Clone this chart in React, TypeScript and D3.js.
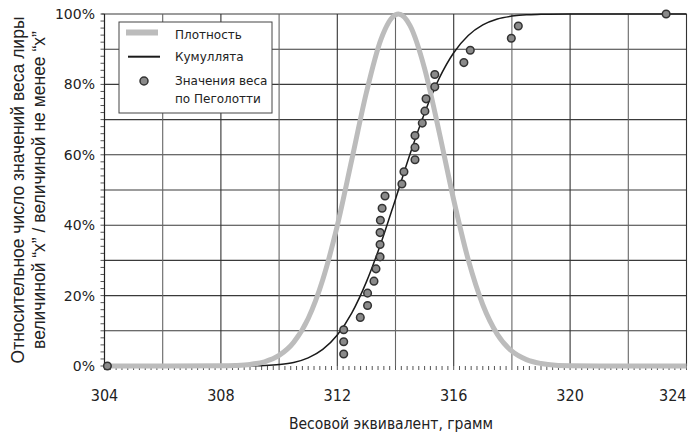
import React from 'react';
import * as d3 from 'd3';

// плотность (в % от максимума)
const densityX = [304, 306, 308, 308.5, 309, 309.5, 310, 310.5, 311, 311.5, 312, 312.5, 313, 313.5, 314, 314.1,
  314.5, 315, 315.5, 316, 316.5, 317, 317.5, 318, 318.5, 319, 319.5, 320, 321, 322, 324];
const densityPct = [0, 0, 0.04, 0.15, 0.45, 1.2, 3.0, 6.7, 13.5, 24.5, 39.9, 58.7, 77.7, 92.8, 99.8, 100,
  96.7, 84.5, 66.5, 47.2, 30.2, 17.4, 9.0, 4.2, 1.8, 0.7, 0.2, 0.07, 0, 0, 0];

// кумулята
const cumulX = [309, 309.5, 310, 310.5, 311, 311.5, 312, 312.5, 313, 313.5, 314, 314.5, 315, 315.5,
  316, 316.5, 317, 317.5, 318, 318.5, 319, 320, 324];
const cumulPct = [0.05, 0.15, 0.41, 1.0, 2.3, 4.7, 8.8, 15.1, 23.9, 34.9, 47.4, 60.2, 71.9, 81.7,
  89.0, 93.9, 96.9, 98.6, 99.4, 99.8, 99.9, 100, 100];

// значения веса по Пеголотти
const pointX = [304.1, 312.22, 312.22, 312.22, 312.79, 313.04, 313.04, 313.26, 313.33, 313.47, 313.47, 313.47,
  313.48, 313.54, 313.64, 314.22, 314.29, 314.67, 314.67, 314.67, 314.92, 315.01, 315.05, 315.35, 315.35,
  316.35, 316.57, 317.98, 318.22, 323.3];
const pointPct = [0, 3.4, 6.9, 10.3, 13.8, 17.2, 20.7, 24.1, 27.6, 31.0, 34.5, 37.9, 41.4, 44.8, 48.3,
  51.7, 55.2, 58.6, 62.1, 65.5, 69.0, 72.4, 75.9, 79.3, 82.8, 86.2, 89.7, 93.1, 96.6, 100];

const xTicks = [304, 308, 312, 316, 320, 324];
const xGrid = [306, 308, 310, 312, 314, 316, 318, 320, 322, 324];
const yTicks = [0, 20, 40, 60, 80, 100];
const yGrid = [10, 20, 30, 40, 50, 60, 70, 80, 90, 100];

const legendItems = ['Плотность', 'Кумуллята', 'Значения веса', 'по Пеголотти'];

const W = 688;
const H = 436;
const left = 104.5;
const right = 686.5;
const top = 14;
const bottom = 366;

export default function App() {
  const x = d3.scaleLinear().domain([304, 324]).range([left, right]);
  const y = d3.scaleLinear().domain([0, 100]).range([bottom, top]);

  const densityLine = d3.line<number>()
    .x((d, i) => x(densityX[i]))
    .y(d => y(d))
    .curve(d3.curveMonotoneX);
  const cumulLine = d3.line<number>()
    .x((d, i) => x(cumulX[i]))
    .y(d => y(d))
    .curve(d3.curveMonotoneX);

  const xMinor = d3.range(304, 324.01, 0.2);
  const yMinor = d3.range(0, 100.01, 2);

  const tickFont = "'DejaVu Sans Condensed', 'DejaVu Sans', sans-serif";

  return (
    <svg width={W} height={H} style={{ position: 'absolute', left: 0, top: 0, background: '#fff' }}>
      {/* сетка */}
      <g stroke="#3a3a3a" strokeWidth={1.1}>
        {yGrid.map(v => (
          <line key={'h' + v} x1={v === 100 ? left - 3 : left} x2={right} y1={y(v)} y2={y(v)} />
        ))}
        {xGrid.map(v => (
          <line key={'v' + v} x1={x(v)} x2={x(v)} y1={top} y2={bottom} stroke={v % 4 === 0 ? '#333' : '#666'} />
        ))}
      </g>

      {/* мелкие деления */}
      <g stroke="#555" strokeWidth={1}>
        {xMinor.map((v, i) => (
          <line key={'xm' + i} x1={x(v)} x2={x(v)} y1={bottom} y2={bottom + 4} />
        ))}
        {yMinor.map((v, i) => (
          <line key={'ym' + i} x1={left - 4} x2={left} y1={y(v)} y2={y(v)} />
        ))}
      </g>
      <line x1={left} x2={left} y1={top} y2={bottom} stroke="#222" strokeWidth={1.2} />

      <path d={cumulLine(cumulPct) || ''} fill="none" stroke="#1a1a1a" strokeWidth={1.5} />
      <path d={densityLine(densityPct) || ''} fill="none" stroke="#bcbcbc" strokeWidth={5} />

      {pointPct.map((v, i) => (
        <circle key={'p' + i} cx={x(pointX[i])} cy={y(v)} r={3.8} fill="#8a8a8a" stroke="#333" strokeWidth={1.5} />
      ))}

      {/* подписи осей */}
      <g fontFamily="'DejaVu Sans', sans-serif" fontSize={14} fill="#222" textAnchor="end">
        {yTicks.map(v => (
          <text key={'yt' + v} x={95} y={y(v)} dy="0.36em">{v}%</text>
        ))}
      </g>
      <g fontFamily={tickFont} fontSize={16} fill="#222">
        {xTicks.map(v => (
          <text key={'xt' + v} x={v === 324 ? right : x(v)} y={401} textAnchor={v === 324 ? 'end' : 'middle'}>{v}</text>
        ))}
      </g>
      <text x={391} y={429} fontFamily={tickFont} fontSize={15.5} fill="#222" textAnchor="middle">
        Весовой эквивалент, грамм
      </text>
      <g fontFamily="'Liberation Sans', Arial, sans-serif" fontSize={17.5} fill="#222" textAnchor="middle">
        <text transform={`translate(24,${(top + bottom) / 2}) rotate(-90)`}>Относительное число значений веса лиры</text>
        <text transform={`translate(45,${(top + bottom) / 2}) rotate(-90)`}>величиной “x” / величиной не менее “x”</text>
      </g>

      {/* легенда */}
      <g>
        <rect x={119} y={22} width={153} height={91} fill="#fff" stroke="#444" strokeWidth={1} />
        <rect x={126} y={29.5} width={32} height={6} fill="#bcbcbc" />
        <line x1={128} x2={160} y1={56.7} y2={56.7} stroke="#1a1a1a" strokeWidth={2} />
        <circle cx={144} cy={81} r={4} fill="#8a8a8a" stroke="#333" strokeWidth={1.5} />
        <g fontFamily="'DejaVu Sans', sans-serif" fontSize={12} fill="#222">
          <text x={175} y={39}>{legendItems[0]}</text>
          <text x={175} y={61}>{legendItems[1]}</text>
          <text x={175} y={85}>{legendItems[2]}</text>
          <text x={175} y={102.5}>{legendItems[3]}</text>
        </g>
      </g>
    </svg>
  );
}
